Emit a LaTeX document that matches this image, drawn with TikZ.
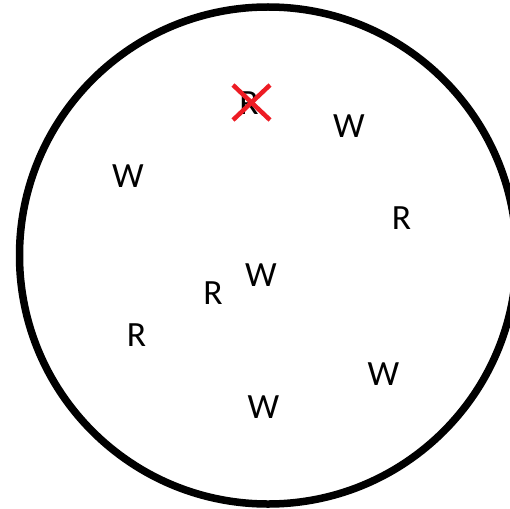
\documentclass[tikz,border=0pt]{standalone}
\usepackage{fontspec}
\setmainfont{Carlito}
\definecolor{xred}{RGB}{237,28,36}
\begin{document}
\begin{tikzpicture}[x=1pt,y=-1pt,
  letter/.style={anchor=base,inner sep=0pt,font=\fontsize{35.5}{40}\selectfont},
  cross/.style={xred,line width=4.5pt}]
\useasboundingbox (0,0) rectangle (510,508);
\clip (0,0) rectangle (510,508);
\draw[line width=7.5pt] (268,255.5) circle[radius=248.5];
\node[letter] (w1) at (128,187.5) {W};
\node[letter] (w2) at (349,137) {W};
\node[letter] (r1) at (249,114.5) {R};
\node[letter] (r2) at (401.5,229.5) {R};
\node[letter] (w3) at (261,286) {W};
\node[letter] (r3) at (213,304.5) {R};
\node[letter] (r4) at (136.5,346) {R};
\node[letter] (w4) at (383.3,385) {W};
\node[letter] (w5) at (263.3,418) {W};
\coordinate (xa) at (233,85);
\coordinate (xb) at (270,120);
\coordinate (xc) at (233,120);
\coordinate (xd) at (270,85);
\draw[cross] (xa) -- (xb);
\draw[cross] (xc) -- (xd);
\end{tikzpicture}
\end{document}
